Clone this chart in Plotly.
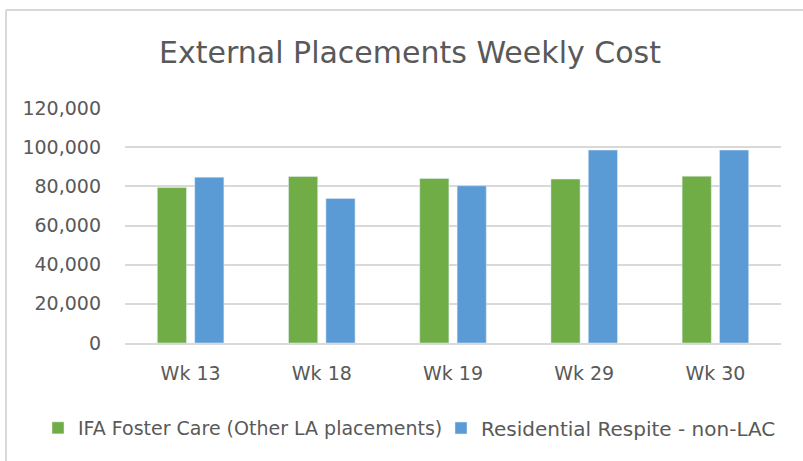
import plotly.graph_objects as go

categories = ["Wk 13", "Wk 18", "Wk 19", "Wk 29", "Wk 30"]
ifa_foster = [79400, 85000, 84000, 83700, 85200]
res_respite = [84700, 73800, 80300, 98500, 98500]
series_names = ["IFA Foster Care (Other LA placements)", "Residential Respite - non-LAC"]
y_ticks = [0, 20000, 40000, 60000, 80000, 100000, 120000]

FONT = "DejaVu Sans"
TXT = "#595959"

fig = go.Figure()
fig.add_trace(go.Bar(x=categories, y=ifa_foster, name=series_names[0],
                     marker=dict(color="#70AD47"), legend="legend"))
fig.add_trace(go.Bar(x=categories, y=res_respite, name=series_names[1],
                     marker=dict(color="#5B9BD5"), legend="legend2"))

W, H = 803, 461
L, R, T, B = 125, 22, 108, 118
pw, ph = W - L - R, H - T - B

def px_x(x):
    return (x - L) / pw

def px_y(y):
    return (H - B - y) / ph

leg_common = dict(orientation="h", xref="container", yref="container",
                  xanchor="left", yanchor="middle", y=1 - 428 / H,
                  itemwidth=30, bgcolor="rgba(0,0,0,0)")

fig.update_layout(
    width=W, height=H,
    margin=dict(l=L, r=R, t=T, b=B, autoexpand=False),
    paper_bgcolor="white", plot_bgcolor="white",
    font=dict(family=FONT, color=TXT, size=19),
    barmode="group", bargap=0.43, bargroupgap=0.22,
    title=dict(text="External Placements Weekly Cost", x=410 / W, xanchor="center",
               xref="container", yref="container",
               y=1 - 52 / H, yanchor="middle",
               font=dict(family=FONT, size=30, color=TXT)),
    showlegend=True,
    legend=dict(leg_common, x=38 / W, font=dict(family=FONT, size=19, color=TXT)),
    legend2=dict(leg_common, x=441 / W, font=dict(family=FONT, size=20, color=TXT)),
    yaxis=dict(range=[0, 120000], tickvals=y_ticks, tickformat=",",
               showgrid=True, gridcolor="#D9D9D9", gridwidth=1.5,
               zeroline=False, showline=False, ticks="", ticklabelstandoff=23,
               tickfont=dict(family=FONT, size=19, color=TXT)),
    xaxis=dict(showline=True, linecolor="#D9D9D9", linewidth=1.5, ticks="",
               showgrid=False, ticklabelstandoff=12,
               tickfont=dict(family=FONT, size=19, color=TXT)),
    shapes=[
        dict(type="line", xref="paper", yref="paper",
             x0=px_x(6), x1=px_x(6), y0=px_y(10), y1=px_y(470),
             line=dict(color="#D9D9D9", width=2)),
        dict(type="line", xref="paper", yref="paper",
             x0=px_x(6), x1=px_x(810), y0=px_y(10), y1=px_y(10),
             line=dict(color="#D9D9D9", width=2)),
    ],
)

fig.write_html("out.html", config={"displayModeBar": False},
               post_script="document.body.style.margin='0';document.body.style.overflow='hidden';")
